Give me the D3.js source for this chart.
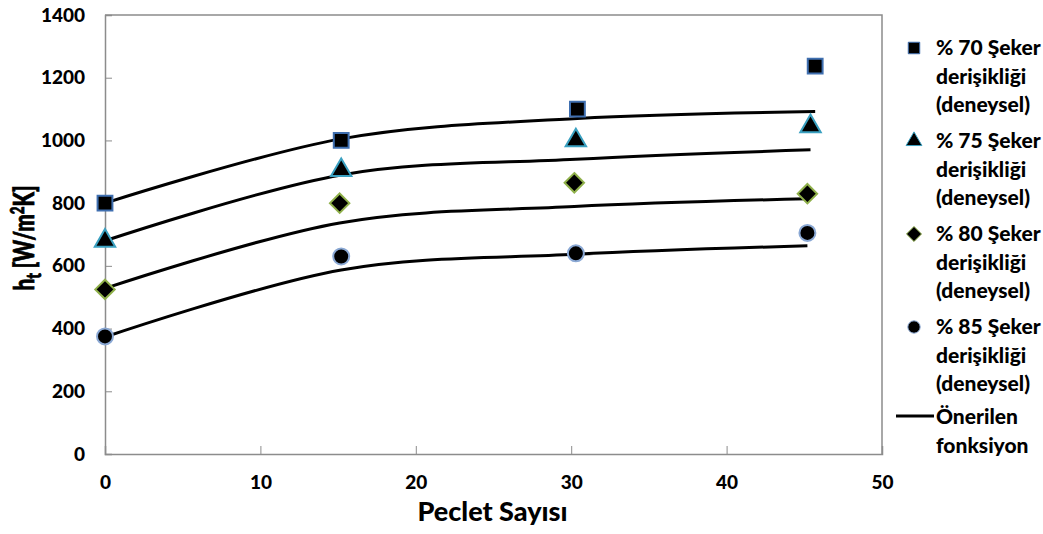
<!DOCTYPE html>
<html>
<head>
<meta charset="utf-8">
<script src="https://cdn.jsdelivr.net/npm/d3@7"></script>
<style>
  html, body { margin: 0; padding: 0; background: #fff; }
  svg text { font-family: Lato, "Open Sans", sans-serif; font-weight: 900; fill: #000; }
</style>
</head>
<body>
<svg id="chart" width="1043" height="534"></svg>
<script>
// Peclet number (x) and measured heat transfer coefficient h_t (y) per sugar concentration
const xs70 = [0, 15.2, 30.4, 45.7];
const ys70 = [800, 1000, 1100, 1237];
const xs75 = [0, 15.2, 30.3, 45.4];
const ys75 = [680, 905, 1000, 1045];
const xs80 = [0, 15.1, 30.2, 45.2];
const ys80 = [525, 800, 865, 830];
const xs85 = [0, 15.2, 30.3, 45.2];
const ys85 = [375, 630, 640, 705];

// Proposed-function values at the same Peclet numbers
const fit70 = [800, 1005, 1070, 1092];
const fit75 = [680, 890, 940, 970];
const fit80 = [528, 737, 789, 814];
const fit85 = [373, 587, 637, 664];

const xTicks = [0, 10, 20, 30, 40, 50];
const yTicks = [0, 200, 400, 600, 800, 1000, 1200, 1400];

const seriesLabels = ["% 70 Şeker", "% 75 Şeker", "% 80 Şeker", "% 85 Şeker"];
const labelLine2 = "derişikliği";
const labelLine3 = "(deneysel)";
const fitLabel = ["Önerilen", "fonksiyon"];

const series = [
  { xs: xs70, ys: ys70, fit: fit70, shape: d3.symbolSquare, size: 220, stroke: "#3f6fb0", label: seriesLabels[0] },
  { xs: xs75, ys: ys75, fit: fit75, shape: d3.symbolTriangle, size: 180, stroke: "#3aa0c0", label: seriesLabels[1] },
  { xs: xs80, ys: ys80, fit: fit80, shape: d3.symbolDiamond2, size: 240, stroke: "#8fb04a", label: seriesLabels[2] },
  { xs: xs85, ys: ys85, fit: fit85, shape: d3.symbolCircle, size: 200, stroke: "#8aa8d4", label: seriesLabels[3] }
];

const svg = d3.select("#chart");
const plot = { left: 105, top: 15, right: 882, bottom: 454 };

const x = d3.scaleLinear().domain([0, 50]).range([plot.left, plot.right]);
const y = d3.scaleLinear().domain([0, 1400]).range([plot.bottom, plot.top]);

const axisColor = "#8c8c8c";

// Plot frame (top and right edges)
svg.append("path")
  .attr("d", `M${plot.left},${plot.top}H${plot.right}V${plot.bottom}`)
  .attr("fill", "none").attr("stroke", axisColor).attr("stroke-width", 1.5);

// Y axis with inward ticks
const yAxis = svg.append("g").attr("transform", `translate(${plot.left},0)`)
  .call(d3.axisLeft(y).tickValues(yTicks).tickFormat(d3.format("d")).tickSize(-7).tickPadding(20));
// X axis with inward ticks
const xAxis = svg.append("g").attr("transform", `translate(0,${plot.bottom})`)
  .call(d3.axisBottom(x).tickValues(xTicks).tickFormat(d3.format("d")).tickSize(-8).tickPadding(22));

[yAxis, xAxis].forEach(g => {
  g.select(".domain").attr("stroke", axisColor).attr("stroke-width", 1.5);
  g.selectAll(".tick line").attr("stroke", axisColor).attr("stroke-width", 1);
  g.selectAll(".tick text").style("font-size", "19px").attr("fill", "#000");
});

// Proposed-function curves
const line = d3.line().curve(d3.curveCardinal.tension(0));
series.forEach(s => {
  svg.append("path")
    .datum(s.xs.map((v, i) => [x(v), y(s.fit[i])]))
    .attr("d", line)
    .attr("fill", "none").attr("stroke", "#000").attr("stroke-width", 3);
});

// Measured points
series.forEach(s => {
  svg.append("g").selectAll("path")
    .data(s.xs.map((v, i) => [v, s.ys[i]]))
    .join("path")
    .attr("transform", d => `translate(${x(d[0])},${y(d[1])})`)
    .attr("d", d3.symbol().type(s.shape).size(s.size))
    .attr("fill", "#000").attr("stroke", s.stroke).attr("stroke-width", 2);
});

// Axis titles
svg.append("text")
  .attr("x", (plot.left + plot.right) / 2 - 1).attr("y", 521)
  .attr("text-anchor", "middle").style("font-size", "27px")
  .text("Peclet Sayısı");

// Vertical title, condensed along its run
const yTitle = svg.append("text")
  .attr("transform", "translate(34,238) rotate(-90) scale(0.74,1)")
  .attr("text-anchor", "middle").style("font-size", "28px")
  .attr("stroke", "#000").attr("stroke-width", 0.8);
yTitle.append("tspan").text("h");
yTitle.append("tspan").attr("dy", 7).style("font-size", "20px").text("t");
yTitle.append("tspan").attr("dy", -7).text(" [W/m");
yTitle.append("tspan").attr("dy", -10).style("font-size", "18px").text("2");
yTitle.append("tspan").attr("dy", 10).text("K]");

// Legend
const legend = svg.append("g");
const entryY = [47, 140, 233, 326];
series.forEach((s, i) => {
  const ey = entryY[i];
  legend.append("path")
    .attr("transform", `translate(914,${ey + 1})`)
    .attr("d", d3.symbol().type(s.shape).size(s.size * 0.6))
    .attr("fill", "#000").attr("stroke", s.stroke).attr("stroke-width", 1);
  const t = legend.append("text").attr("x", 936).attr("y", ey + 8).style("font-size", "21px");
  t.append("tspan").attr("x", 936).text(s.label);
  t.append("tspan").attr("x", 936).attr("dy", 28.5).text(labelLine2);
  t.append("tspan").attr("x", 936).attr("dy", 28.5).text(labelLine3);
});
legend.append("line")
  .attr("x1", 896).attr("x2", 934).attr("y1", 416).attr("y2", 416)
  .attr("stroke", "#000").attr("stroke-width", 3);
const ft = legend.append("text").attr("x", 936).attr("y", 424).style("font-size", "21px");
ft.append("tspan").attr("x", 936).text(fitLabel[0]);
ft.append("tspan").attr("x", 936).attr("dy", 28.5).text(fitLabel[1]);
</script>
</body>
</html>
